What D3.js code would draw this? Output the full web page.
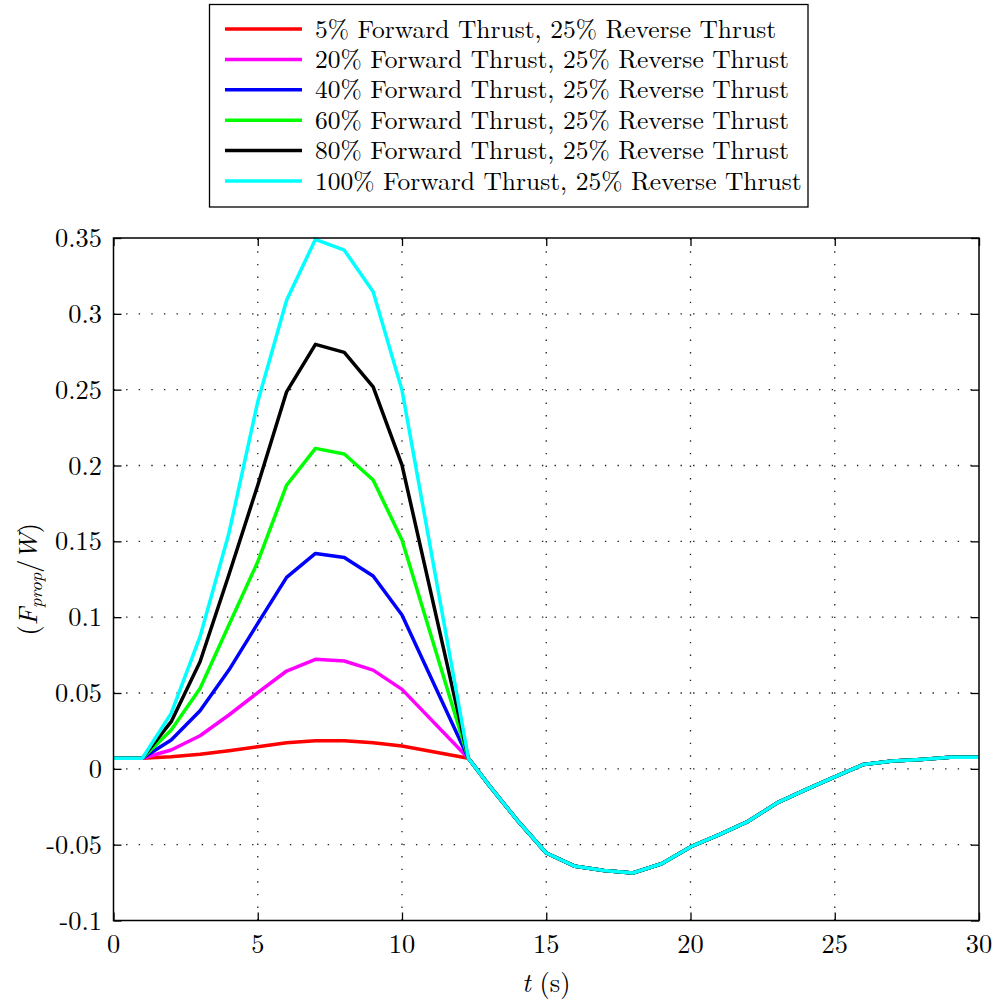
<!DOCTYPE html>
<html>
<head>
<meta charset="utf-8">
<script src="https://cdn.jsdelivr.net/npm/d3@7"></script>
<style>
  html, body { margin: 0; padding: 0; background: #fff; }
  svg { display: block; }
</style>
</head>
<body>
<svg id="chart" width="997" height="1005"></svg>
<script>
// ---------------- DATA ----------------
const seriesNames = [
  "5% Forward Thrust, 25% Reverse Thrust",
  "20% Forward Thrust, 25% Reverse Thrust",
  "40% Forward Thrust, 25% Reverse Thrust",
  "60% Forward Thrust, 25% Reverse Thrust",
  "80% Forward Thrust, 25% Reverse Thrust",
  "100% Forward Thrust, 25% Reverse Thrust"
];
const seriesColors = ["#ff0000", "#ff00ff", "#0000ff", "#00ff00", "#000000", "#00ffff"];

// shared start (before thrust phase)
const tHead = [0, 1];
const vHead = [0.007, 0.007];

// forward-thrust phase, per series
const tPeak = [2, 3, 4, 5, 6, 7, 8, 9, 10];
const vPeak5   = [0.008, 0.0096, 0.0119, 0.0146, 0.0172, 0.0185, 0.0185, 0.0172, 0.015];
const vPeak20  = [0.0124, 0.0218, 0.0355, 0.0502, 0.0645, 0.0722, 0.0711, 0.0651, 0.0524];
const vPeak40  = [0.019, 0.0383, 0.0651, 0.0959, 0.1262, 0.142, 0.1394, 0.1271, 0.1014];
const vPeak60  = [0.0256, 0.053, 0.0948, 0.1365, 0.187, 0.2113, 0.2076, 0.1904, 0.1509];
const vPeak80  = [0.0311, 0.0706, 0.128, 0.187, 0.2486, 0.2799, 0.2746, 0.2519, 0.2003];
const vPeak100 = [0.0366, 0.0871, 0.1553, 0.242, 0.309, 0.3491, 0.342, 0.3146, 0.2497];
const peaks = [vPeak5, vPeak20, vPeak40, vPeak60, vPeak80, vPeak100];

// shared reverse-thrust phase
const tTail = [12.3, 13, 14, 15, 16, 17, 18, 19, 20, 21, 22, 23, 24, 25, 26, 27, 28, 29, 30];
const vTail = [0.007, -0.0104, -0.034, -0.0555, -0.0643, -0.067, -0.0687, -0.0626, -0.0515,
               -0.0434, -0.0346, -0.0225, -0.0137, -0.0053, 0.0029, 0.0051, 0.0062, 0.0077, 0.0077];

const xTicks = [0, 5, 10, 15, 20, 25, 30];
const xTickLabels = ["0", "5", "10", "15", "20", "25", "30"];
const yTicks = [-0.1, -0.05, 0, 0.05, 0.1, 0.15, 0.2, 0.25, 0.3, 0.35];
const yTickLabels = ["-0.1", "-0.05", "0", "0.05", "0.1", "0.15", "0.2", "0.25", "0.3", "0.35"];

// ---------------- LAYOUT ----------------
const FONT = '"Latin Modern Roman", "Liberation Serif", serif';
const svg = d3.select("#chart");
const L = 113.5, R = 979, T = 238, B = 920.5;
const x = d3.scaleLinear().domain([0, 30]).range([L, R]);
const y = d3.scaleLinear().domain([-0.1, 0.35]).range([B, T]);

// grid
const grid = svg.append("g").attr("stroke", "#222").attr("stroke-width", 1.3)
  .attr("stroke-dasharray", "1.4,11.2").attr("fill", "none");
xTicks.filter(d => d > 0 && d < 30).forEach(d => {
  grid.append("line").attr("x1", x(d)).attr("x2", x(d)).attr("y1", B).attr("y2", T);
});
yTicks.filter(d => d > -0.1 && d < 0.35).forEach(d => {
  grid.append("line").attr("x1", L).attr("x2", R).attr("y1", y(d)).attr("y2", y(d));
});

// series
const line = d3.line().x(d => x(d[0])).y(d => y(d[1]));
svg.append("clipPath").attr("id", "clip").append("rect")
  .attr("x", L).attr("y", T - 2).attr("width", R - L).attr("height", B - T + 2);
const lines = svg.append("g").attr("clip-path", "url(#clip)");
peaks.forEach((vp, i) => {
  const pts = [];
  tHead.forEach((t, j) => pts.push([t, vHead[j]]));
  tPeak.forEach((t, j) => pts.push([t, vp[j]]));
  tTail.forEach((t, j) => pts.push([t, vTail[j]]));
  lines.append("path").datum(pts)
    .attr("d", line)
    .attr("fill", "none")
    .attr("stroke", seriesColors[i])
    .attr("stroke-width", 3.5)
    .attr("stroke-linejoin", "round");
});

// axes (box with inward ticks on all sides)
const tickLen = 8;
const axG = svg.append("g");
const axB = d3.axisBottom(x).tickValues(xTicks).tickFormat("").tickSizeInner(-tickLen).tickSizeOuter(0);
const axT = d3.axisTop(x).tickValues(xTicks).tickFormat("").tickSizeInner(-tickLen).tickSizeOuter(0);
const axLft = d3.axisLeft(y).tickValues(yTicks).tickFormat("").tickSizeInner(-tickLen).tickSizeOuter(0);
const axRt = d3.axisRight(y).tickValues(yTicks).tickFormat("").tickSizeInner(-tickLen).tickSizeOuter(0);
axG.append("g").attr("transform", `translate(0,${B})`).call(axB);
axG.append("g").attr("transform", `translate(0,${T})`).call(axT);
axG.append("g").attr("transform", `translate(${L},0)`).call(axLft);
axG.append("g").attr("transform", `translate(${R},0)`).call(axRt);
axG.selectAll("path.domain").remove();
axG.selectAll(".tick line").attr("stroke", "#000").attr("stroke-width", 1.3);
svg.append("rect").attr("x", L).attr("y", T).attr("width", R - L).attr("height", B - T)
  .attr("fill", "none").attr("stroke", "#000").attr("stroke-width", 1.5);

// tick labels
const fs = 26.4;
svg.append("g").selectAll("text").data(xTicks).join("text")
  .style("font-family", FONT)
  .attr("x", d => x(d)).attr("y", 953)
  .attr("text-anchor", "middle").attr("font-size", fs)
  .text((d, i) => xTickLabels[i]);
svg.append("g").selectAll("text").data(yTicks).join("text")
  .style("font-family", FONT)
  .attr("x", 102).attr("y", d => y(d) + 9)
  .attr("text-anchor", "end").attr("font-size", fs)
  .text((d, i) => yTickLabels[i]);

// axis labels
const xl = svg.append("text").style("font-family", FONT).attr("x", (L + R) / 2).attr("y", 992)
  .attr("text-anchor", "middle").attr("font-size", fs);
xl.append("tspan").attr("font-style", "italic").text("t");
xl.append("tspan").text(" (s)");

const yl = svg.append("text").style("font-family", FONT)
  .attr("transform", `translate(37,${(T + B) / 2}) rotate(-90)`)
  .attr("text-anchor", "middle").attr("font-size", fs);
yl.append("tspan").text("(");
yl.append("tspan").attr("font-style", "italic").text("F");
yl.append("tspan").attr("font-style", "italic").attr("font-size", 18.5).attr("dy", 5).text("prop");
yl.append("tspan").attr("dy", -5).text("/");
yl.append("tspan").attr("font-style", "italic").text("W");
yl.append("tspan").text(")");

// legend
const lg = svg.append("g");
lg.append("rect").attr("x", 209.5).attr("y", 4.5).attr("width", 598.5).attr("height", 202.5)
  .attr("fill", "#fff").attr("stroke", "#000").attr("stroke-width", 1.3);
const rowY = d3.scaleLinear().domain([0, 5]).range([29, 181]);
seriesNames.forEach((name, i) => {
  lg.append("line").attr("x1", 225).attr("x2", 302)
    .attr("y1", rowY(i)).attr("y2", rowY(i))
    .attr("stroke", seriesColors[i]).attr("stroke-width", 3.5);
  lg.append("text").style("font-family", FONT).attr("x", 315).attr("y", rowY(i) + 8.5)
    .attr("font-size", 25.5)
    .text(name);
});
</script>
</body>
</html>
